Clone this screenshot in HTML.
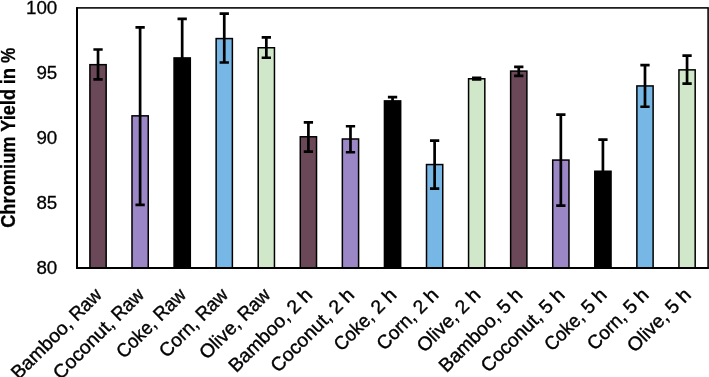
<!DOCTYPE html>
<html lang="en"><head><meta charset="utf-8"><title>Chromium Yield in %</title>
<style>html,body{margin:0;padding:0;background:#fff}body{width:709px;height:377px;overflow:hidden}svg{display:block}text{font-family:"Liberation Sans",sans-serif;fill:#000}</style>
</head><body>
<svg width="709" height="377" viewBox="0 0 709 377">
<rect x="0" y="0" width="709" height="377" fill="#fff"/>
<rect x="89.91" y="64.67" width="16.25" height="203.33" fill="#6b4858" stroke="#000" stroke-width="1.5"/>
<rect x="131.99" y="115.84" width="16.25" height="152.16" fill="#9b87c6" stroke="#000" stroke-width="1.5"/>
<rect x="174.06" y="57.92" width="16.25" height="210.08" fill="#000000" stroke="#000" stroke-width="1.5"/>
<rect x="216.13" y="38.57" width="16.25" height="229.43" fill="#77b7e5" stroke="#000" stroke-width="1.5"/>
<rect x="258.21" y="47.76" width="16.25" height="220.24" fill="#d0e7c9" stroke="#000" stroke-width="1.5"/>
<rect x="300.28" y="136.78" width="16.25" height="131.22" fill="#6b4858" stroke="#000" stroke-width="1.5"/>
<rect x="342.35" y="138.99" width="16.25" height="129.01" fill="#9b87c6" stroke="#000" stroke-width="1.5"/>
<rect x="384.43" y="100.89" width="16.25" height="167.11" fill="#000000" stroke="#000" stroke-width="1.5"/>
<rect x="426.50" y="164.55" width="16.25" height="103.45" fill="#77b7e5" stroke="#000" stroke-width="1.5"/>
<rect x="468.57" y="78.78" width="16.25" height="189.22" fill="#d0e7c9" stroke="#000" stroke-width="1.5"/>
<rect x="510.64" y="71.10" width="16.25" height="196.90" fill="#6b4858" stroke="#000" stroke-width="1.5"/>
<rect x="552.72" y="160.06" width="16.25" height="107.94" fill="#9b87c6" stroke="#000" stroke-width="1.5"/>
<rect x="594.79" y="171.24" width="16.25" height="96.76" fill="#000000" stroke="#000" stroke-width="1.5"/>
<rect x="636.87" y="85.93" width="16.25" height="182.07" fill="#77b7e5" stroke="#000" stroke-width="1.5"/>
<rect x="678.94" y="69.87" width="16.25" height="198.13" fill="#d0e7c9" stroke="#000" stroke-width="1.5"/>
<path d="M98.04 49.52V79.43M93.39 49.52h9.3M93.39 79.43h9.3" fill="none" stroke="#000" stroke-width="2.7"/>
<path d="M140.11 27.41V204.93M135.46 27.41h9.3M135.46 204.93h9.3" fill="none" stroke="#000" stroke-width="2.7"/>
<path d="M182.18 18.90V98.94M177.53 18.90h9.3M177.53 98.94h9.3" fill="none" stroke="#000" stroke-width="2.7"/>
<path d="M224.26 13.56V62.52M219.61 13.56h9.3M219.61 62.52h9.3" fill="none" stroke="#000" stroke-width="2.7"/>
<path d="M266.33 37.42V57.77M261.68 37.42h9.3M261.68 57.77h9.3" fill="none" stroke="#000" stroke-width="2.7"/>
<path d="M308.40 122.34V151.54M303.75 122.34h9.3M303.75 151.54h9.3" fill="none" stroke="#000" stroke-width="2.7"/>
<path d="M350.48 126.25V152.26M345.83 126.25h9.3M345.83 152.26h9.3" fill="none" stroke="#000" stroke-width="2.7"/>
<path d="M392.55 97.11V105.44M387.90 97.11h9.3M387.90 105.44h9.3" fill="none" stroke="#000" stroke-width="2.7"/>
<path d="M434.62 140.55V188.67M429.97 140.55h9.3M429.97 188.67h9.3" fill="none" stroke="#000" stroke-width="2.7"/>
<path d="M476.70 77.87V79.43M472.05 77.87h9.3M472.05 79.43h9.3" fill="none" stroke="#000" stroke-width="2.7"/>
<path d="M518.77 66.94V75.79M514.12 66.94h9.3M514.12 75.79h9.3" fill="none" stroke="#000" stroke-width="2.7"/>
<path d="M560.84 114.54V205.58M556.19 114.54h9.3M556.19 205.58h9.3" fill="none" stroke="#000" stroke-width="2.7"/>
<path d="M602.92 139.64V202.97M598.27 139.64h9.3M598.27 202.97h9.3" fill="none" stroke="#000" stroke-width="2.7"/>
<path d="M644.99 65.12V106.74M640.34 65.12h9.3M640.34 106.74h9.3" fill="none" stroke="#000" stroke-width="2.7"/>
<path d="M687.06 55.63V83.59M682.41 55.63h9.3M682.41 83.59h9.3" fill="none" stroke="#000" stroke-width="2.7"/>
<rect x="77.0" y="7.9" width="631.10" height="260.10" fill="none" stroke="#000" stroke-width="1.55"/>
<path d="M77.0 7.2V268.0H708.8000000000001" fill="none" stroke="#000" stroke-width="2" stroke-linejoin="miter" stroke-linecap="butt"/>
<g opacity="0.999">
<text x="36.43" y="274.10" font-size="19.2" stroke="#000" stroke-width="0.3" textLength="20.87" lengthAdjust="spacingAndGlyphs">80</text>
<text x="36.43" y="209.07" font-size="19.2" stroke="#000" stroke-width="0.3" textLength="20.87" lengthAdjust="spacingAndGlyphs">85</text>
<text x="36.43" y="144.05" font-size="19.2" stroke="#000" stroke-width="0.3" textLength="20.87" lengthAdjust="spacingAndGlyphs">90</text>
<text x="36.43" y="79.02" font-size="19.2" stroke="#000" stroke-width="0.3" textLength="20.87" lengthAdjust="spacingAndGlyphs">95</text>
<text x="26.00" y="14.00" font-size="19.2" stroke="#000" stroke-width="0.3" textLength="31.30" lengthAdjust="spacingAndGlyphs">100</text>
<g transform="translate(14.9 227.85) rotate(-90)" font-size="20" font-weight="bold" stroke="#000" stroke-width="0.3">
<text x="0.00" y="0" textLength="91.40" lengthAdjust="spacingAndGlyphs">Chromium</text>
<text x="96.14" y="0" textLength="42.71" lengthAdjust="spacingAndGlyphs">Yield</text>
<text x="143.60" y="0" textLength="16.41" lengthAdjust="spacingAndGlyphs">in</text>
<text x="164.75" y="0" textLength="15.30" lengthAdjust="spacingAndGlyphs">%</text>
</g>
<g transform="translate(103.04 296.0) rotate(-45)" font-size="19.2" stroke="#000" stroke-width="0.4">
<text x="-119.24" y="0" textLength="77.51" lengthAdjust="spacingAndGlyphs">Bamboo,</text>
<text x="-36.91" y="0" textLength="36.91" lengthAdjust="spacingAndGlyphs">Raw</text>
</g>
<g transform="translate(145.11 296.0) rotate(-45)" font-size="19.2" stroke="#000" stroke-width="0.4">
<text x="-119.33" y="0" textLength="77.60" lengthAdjust="spacingAndGlyphs">Coconut,</text>
<text x="-36.91" y="0" textLength="36.91" lengthAdjust="spacingAndGlyphs">Raw</text>
</g>
<g transform="translate(187.18 296.0) rotate(-45)" font-size="19.2" stroke="#000" stroke-width="0.4">
<text x="-89.30" y="0" textLength="47.57" lengthAdjust="spacingAndGlyphs">Coke,</text>
<text x="-36.91" y="0" textLength="36.91" lengthAdjust="spacingAndGlyphs">Raw</text>
</g>
<g transform="translate(229.26 296.0) rotate(-45)" font-size="19.2" stroke="#000" stroke-width="0.4">
<text x="-88.32" y="0" textLength="46.59" lengthAdjust="spacingAndGlyphs">Corn,</text>
<text x="-36.91" y="0" textLength="36.91" lengthAdjust="spacingAndGlyphs">Raw</text>
</g>
<g transform="translate(271.33 296.0) rotate(-45)" font-size="19.2" stroke="#000" stroke-width="0.4">
<text x="-91.01" y="0" textLength="49.28" lengthAdjust="spacingAndGlyphs">Olive,</text>
<text x="-36.91" y="0" textLength="36.91" lengthAdjust="spacingAndGlyphs">Raw</text>
</g>
<g transform="translate(313.40 296.0) rotate(-45)" font-size="19.2" stroke="#000" stroke-width="0.4">
<text x="-109.18" y="0" textLength="77.51" lengthAdjust="spacingAndGlyphs">Bamboo,</text>
<text x="-26.84" y="0" textLength="10.81" lengthAdjust="spacingAndGlyphs">2</text>
<text x="-11.21" y="0" textLength="11.21" lengthAdjust="spacingAndGlyphs">h</text>
</g>
<g transform="translate(355.48 296.0) rotate(-45)" font-size="19.2" stroke="#000" stroke-width="0.4">
<text x="-109.27" y="0" textLength="77.60" lengthAdjust="spacingAndGlyphs">Coconut,</text>
<text x="-26.84" y="0" textLength="10.81" lengthAdjust="spacingAndGlyphs">2</text>
<text x="-11.21" y="0" textLength="11.21" lengthAdjust="spacingAndGlyphs">h</text>
</g>
<g transform="translate(397.55 296.0) rotate(-45)" font-size="19.2" stroke="#000" stroke-width="0.4">
<text x="-79.24" y="0" textLength="47.57" lengthAdjust="spacingAndGlyphs">Coke,</text>
<text x="-26.84" y="0" textLength="10.81" lengthAdjust="spacingAndGlyphs">2</text>
<text x="-11.21" y="0" textLength="11.21" lengthAdjust="spacingAndGlyphs">h</text>
</g>
<g transform="translate(439.62 296.0) rotate(-45)" font-size="19.2" stroke="#000" stroke-width="0.4">
<text x="-78.26" y="0" textLength="46.59" lengthAdjust="spacingAndGlyphs">Corn,</text>
<text x="-26.84" y="0" textLength="10.81" lengthAdjust="spacingAndGlyphs">2</text>
<text x="-11.21" y="0" textLength="11.21" lengthAdjust="spacingAndGlyphs">h</text>
</g>
<g transform="translate(481.70 296.0) rotate(-45)" font-size="19.2" stroke="#000" stroke-width="0.4">
<text x="-80.95" y="0" textLength="49.28" lengthAdjust="spacingAndGlyphs">Olive,</text>
<text x="-26.84" y="0" textLength="10.81" lengthAdjust="spacingAndGlyphs">2</text>
<text x="-11.21" y="0" textLength="11.21" lengthAdjust="spacingAndGlyphs">h</text>
</g>
<g transform="translate(523.77 296.0) rotate(-45)" font-size="19.2" stroke="#000" stroke-width="0.4">
<text x="-109.18" y="0" textLength="77.51" lengthAdjust="spacingAndGlyphs">Bamboo,</text>
<text x="-26.84" y="0" textLength="10.81" lengthAdjust="spacingAndGlyphs">5</text>
<text x="-11.21" y="0" textLength="11.21" lengthAdjust="spacingAndGlyphs">h</text>
</g>
<g transform="translate(565.84 296.0) rotate(-45)" font-size="19.2" stroke="#000" stroke-width="0.4">
<text x="-109.27" y="0" textLength="77.60" lengthAdjust="spacingAndGlyphs">Coconut,</text>
<text x="-26.84" y="0" textLength="10.81" lengthAdjust="spacingAndGlyphs">5</text>
<text x="-11.21" y="0" textLength="11.21" lengthAdjust="spacingAndGlyphs">h</text>
</g>
<g transform="translate(607.92 296.0) rotate(-45)" font-size="19.2" stroke="#000" stroke-width="0.4">
<text x="-79.24" y="0" textLength="47.57" lengthAdjust="spacingAndGlyphs">Coke,</text>
<text x="-26.84" y="0" textLength="10.81" lengthAdjust="spacingAndGlyphs">5</text>
<text x="-11.21" y="0" textLength="11.21" lengthAdjust="spacingAndGlyphs">h</text>
</g>
<g transform="translate(649.99 296.0) rotate(-45)" font-size="19.2" stroke="#000" stroke-width="0.4">
<text x="-78.26" y="0" textLength="46.59" lengthAdjust="spacingAndGlyphs">Corn,</text>
<text x="-26.84" y="0" textLength="10.81" lengthAdjust="spacingAndGlyphs">5</text>
<text x="-11.21" y="0" textLength="11.21" lengthAdjust="spacingAndGlyphs">h</text>
</g>
<g transform="translate(692.06 296.0) rotate(-45)" font-size="19.2" stroke="#000" stroke-width="0.4">
<text x="-80.95" y="0" textLength="49.28" lengthAdjust="spacingAndGlyphs">Olive,</text>
<text x="-26.84" y="0" textLength="10.81" lengthAdjust="spacingAndGlyphs">5</text>
<text x="-11.21" y="0" textLength="11.21" lengthAdjust="spacingAndGlyphs">h</text>
</g>
</g>
</svg>
</body></html>
